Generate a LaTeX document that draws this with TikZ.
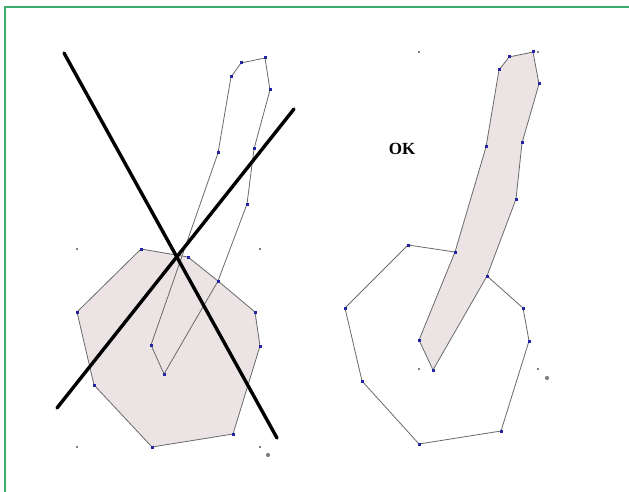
\documentclass[tikz,border=0pt]{standalone}
\usepackage{fontspec}
\setmainfont{Liberation Serif}
\definecolor{frame}{RGB}{62,172,112}
\definecolor{vblue}{RGB}{35,35,165}
\definecolor{shade}{RGB}{236,228,228}
\definecolor{edge}{RGB}{105,105,105}
\tikzset{
  edgeline/.style={draw=edge, line width=0.8pt, line join=round},
  bigline/.style={draw=black, line width=3.4pt, line cap=round},
  vdot/.style={fill=vblue, minimum size=3pt, inner sep=0pt, draw=none, rectangle},
  gdot/.style={fill=gray, minimum size=2.6pt, inner sep=0pt, draw=none, rectangle},
  gbig/.style={fill=gray, minimum size=4.2pt, inner sep=0pt, draw=none, circle},
}
\begin{document}
\begin{tikzpicture}[x=1pt,y=-1pt]
\useasboundingbox (0,0) rectangle (629,492);
% frame
\draw[frame, line width=2.8pt] (5,492) -- (5,7) -- (629,7);

% ---------- left figure ----------
\foreach \n/\x/\y in {a1/141/249,a2/188/257,a3/218/281,a4/255/312,a5/260/346,a6/233/434,a7/152/447,a8/94/385,a9/77/312}
  \coordinate (L\n) at (\x,\y);
\foreach \n/\x/\y in {s1/241/63,s2/265/58,s3/270/90,s4/254/149,s5/247/204,s6/218/281,s7/164/374,s8/151/345,s9/218/153,s10/231/77}
  \coordinate (L\n) at (\x,\y);
\filldraw[edgeline, fill=shade] (La1)--(La2)--(La3)--(La4)--(La5)--(La6)--(La7)--(La8)--(La9)--cycle;
\draw[edgeline] (Ls1)--(Ls2)--(Ls3)--(Ls4)--(Ls5)--(Ls6)--(Ls7)--(Ls8)--(Ls9)--(Ls10)--cycle;
\foreach \n in {a1,a2,a3,a4,a5,a6,a7,a8,a9,s1,s2,s3,s4,s5,s7,s8,s9,s10}
  \node[vdot] at (L\n) {};
\foreach \x/\y in {77/249,260/249,77/447,260/447}
  \node[gdot] at (\x,\y) {};
\node[gbig] at (268,455) {};
\coordinate (B1a) at (64,53);  \coordinate (B1b) at (277,438);
\coordinate (B2a) at (294,109); \coordinate (B2b) at (57,408);
\draw[bigline] (B1a) -- (B1b);
\draw[bigline] (B2a) -- (B2b);

% ---------- right figure ----------
\foreach \n/\x/\y in {a1/408/245,a2/455/252,a3/487/276,a4/523/308,a5/529/341,a6/501/431,a7/419/444,a8/362/381,a9/345/308}
  \coordinate (R\n) at (\x,\y);
\foreach \n/\x/\y in {s1/509/57,s2/533/52,s3/539/84,s4/522/143,s5/516/199,s7/433/370,s8/419/340,s9/486/147,s10/499/70}
  \coordinate (R\n) at (\x,\y);
\filldraw[edgeline, fill=shade] (Rs1)--(Rs2)--(Rs3)--(Rs4)--(Rs5)--(Ra3)--(Rs7)--(Rs8)--(Ra2)--(Rs9)--(Rs10)--cycle;
\draw[edgeline] (Ra2)--(Ra1)--(Ra9)--(Ra8)--(Ra7)--(Ra6)--(Ra5)--(Ra4)--(Ra3);
\foreach \n in {a1,a2,a3,a4,a5,a6,a7,a8,a9,s1,s2,s3,s4,s5,s7,s8,s9,s10}
  \node[vdot] at (R\n) {};
\foreach \x/\y in {419/52,538/52,419/369,538/369}
  \node[gdot] at (\x,\y) {};
\node[gbig] at (547,378) {};
\node[font=\bfseries\fontsize{17}{19}\selectfont] (ok) at (402,149) {OK};
\end{tikzpicture}
\end{document}
